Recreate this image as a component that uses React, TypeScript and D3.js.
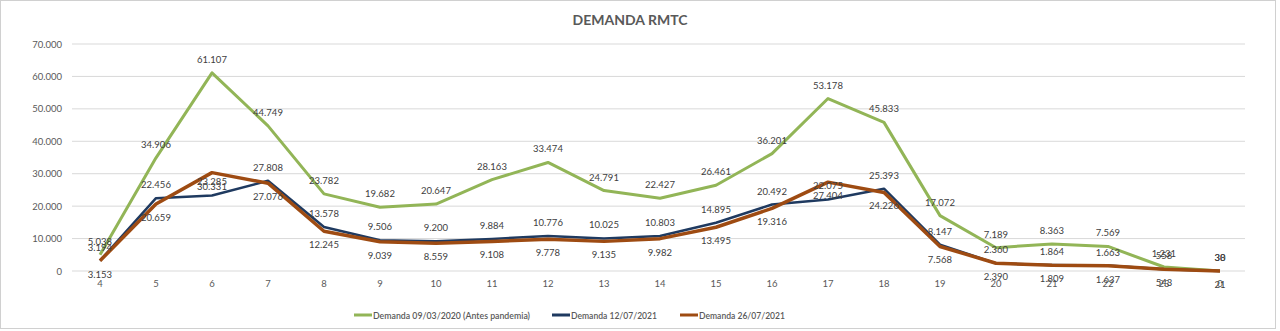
import React from "react";
import * as d3 from "d3";

const categories = ["4","5","6","7","8","9","10","11","12","13","14","15","16","17","18","19","20","21","22","23","0"];
const green = [5038,34906,61107,44749,23782,19682,20647,28163,33474,24791,22427,26461,36201,53178,45833,17072,7189,8363,7569,1231,38];
const blue = [3194,22456,23285,27808,13578,9506,9200,9884,10776,10025,10803,14895,20492,22075,25393,8147,2360,1864,1663,558,30];
const brown = [3153,20659,30331,27076,12245,9039,8559,9108,9778,9135,9982,13495,19316,27404,24226,7568,2390,1809,1637,543,21];
const yTicks = [0,10000,20000,30000,40000,50000,60000,70000];
const seriesNames = ["Demanda 09/03/2020 (Antes pandemia)","Demanda 12/07/2021","Demanda 26/07/2021"];

const W = 1280, H = 331;
const FONT = "Lato, 'Open Sans', sans-serif";
const fmt = (v: number) => {
  const s = Math.round(v).toString();
  return s.replace(/\B(?=(\d{3})+(?!\d))/g, ".");
};

export default function App() {
  const x = d3.scaleBand<string>().domain(categories).range([72, 1248]);
  const y = d3.scaleLinear().domain([0, 70000]).range([271, 44]);
  const cx = (i: number) => (x(categories[i]) as number) + x.bandwidth() / 2;
  const line = d3.line<number>().x((_, i) => cx(i)).y((d) => y(d));

  const series = [
    { name: seriesNames[0], data: green, color: "#92B557", width: 3, pos: "above" },
    { name: seriesNames[1], data: blue, color: "#1F3A60", width: 2.5, pos: "above" },
    { name: seriesNames[2], data: brown, color: "#9E4B12", width: 3.5, pos: "below" },
  ];

  const legendX = [354, 552, 680];
  const legendW = [157, 86, 86];

  return (
    <div style={{ position: "absolute", left: 0, top: 0 }}>
      <svg width={W} height={H} style={{ display: "block", background: "#fff" }}>
        <rect x={0.5} y={0.5} width={1275} height={328} fill="#fff" stroke="#D0D0D0" />
        <text x={630} y={25} textAnchor="middle" fontFamily={FONT} fontWeight="bold" fontSize={14} fill="#595959">DEMANDA RMTC</text>
        {yTicks.map((t) => (
          <g key={t}>
            <line x1={72} x2={1245} y1={y(t)} y2={y(t)} stroke="#D9D9D9" strokeWidth={1} />
            <text x={62} y={y(t) + 3.5} textAnchor="end" fontFamily={FONT} fontSize={9.5} fill="#595959">{fmt(t)}</text>
          </g>
        ))}
        {categories.map((c, i) => (
          <text key={c} x={cx(i)} y={287} textAnchor="middle" fontFamily={FONT} fontSize={9.5} fill="#595959">{c}</text>
        ))}
        {series.map((s) => (
          <path key={s.name} d={line(s.data) as string} fill="none" stroke={s.color} strokeWidth={s.width} strokeLinejoin="round" />
        ))}
        {series.map((s) =>
          s.data.map((v, i) => (
            <text key={s.name + i} x={cx(i)} y={y(v) + (s.pos === "above" ? -10 : 17)} textAnchor="middle" fontFamily={FONT} fontSize={9.5} fill="#404040">{fmt(v)}</text>
          ))
        )}
        {series.map((s, k) => (
          <g key={"lg" + k}>
            <line x1={legendX[k]} x2={legendX[k] + 18} y1={315} y2={315} stroke={s.color} strokeWidth={3} />
            <text x={legendX[k] + 19} y={318.5} fontFamily={FONT} fontSize={9.5} fontWeight={600} fill="#595959" textLength={legendW[k]} lengthAdjust="spacingAndGlyphs">{s.name}</text>
          </g>
        ))}
      </svg>
    </div>
  );
}
